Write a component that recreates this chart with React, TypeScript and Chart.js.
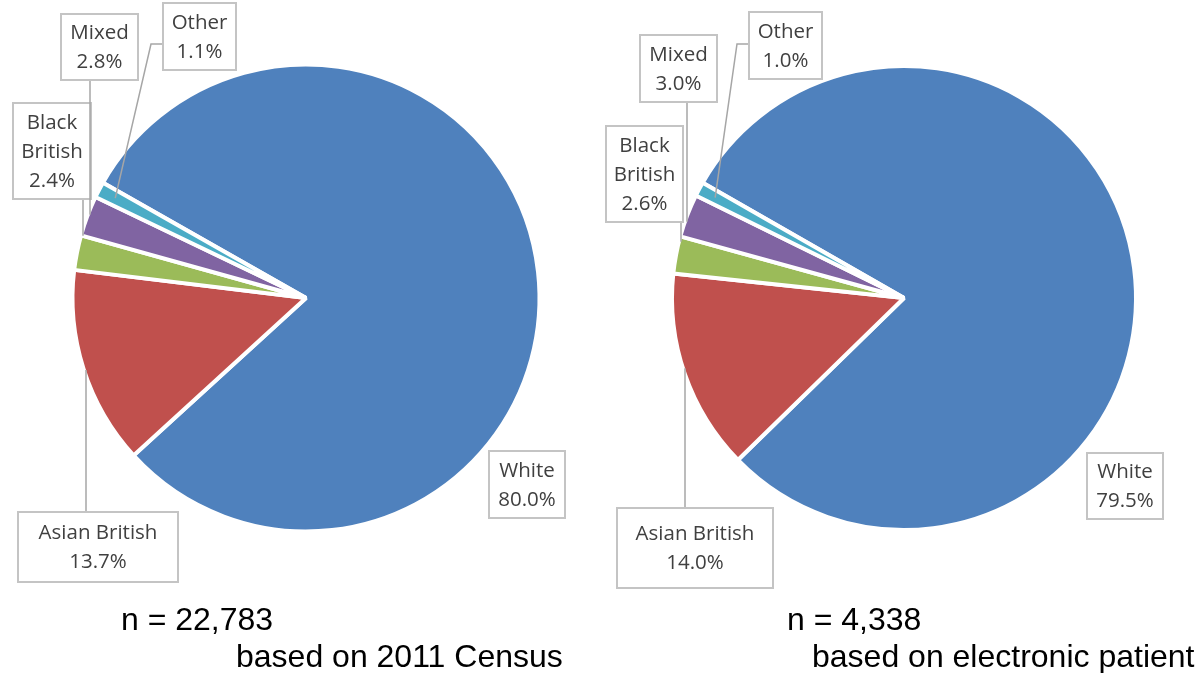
import { useEffect, useRef } from "react";
import { Chart, PieController, ArcElement } from "chart.js";

Chart.register(PieController, ArcElement);

// Ethnic group shares (%), in clockwise slice order
const categories = ["White", "Asian British", "Black British", "Mixed", "Other"];
const censusShares = [80.0, 13.7, 2.4, 2.8, 1.1];
const patientShares = [79.5, 14.0, 2.6, 3.0, 1.0];
const sliceColors = ["#4F81BD", "#C0504D", "#9BBB59", "#8064A2", "#4BACC6"];
const censusCaption = ["n = 22,783", "based on 2011 Census"];
const patientCaption = ["n = 4,338", "based on electronic patient"];

type Leader = "none" | "down" | "up" | "elbow";
type Callout = {
  x: number;
  y: number;
  w: number;
  h: number;
  wrap?: boolean;
  leader: Leader;
  lx?: number;
  ly?: number;
};
type Caption = { x: number; y: number };

const LABEL_FONT = '20.5px "Open Sans", "Noto Sans", sans-serif';
const CAPTION_FONT = '32px "Liberation Sans", Arial, sans-serif';
const LINE_H = 29;
const SLICE_BORDER = 4;

// Callout boxes, indexed like `categories`
const censusCallouts: Callout[] = [
  { x: 489, y: 451, w: 76, h: 67, leader: "none" },
  { x: 18, y: 512, w: 160, h: 70, leader: "up", lx: 86 },
  { x: 13, y: 103, w: 78, h: 96, wrap: true, leader: "down", lx: 83 },
  { x: 61, y: 14, w: 77, h: 66, leader: "down", lx: 90 },
  { x: 163, y: 3, w: 73, h: 67, leader: "elbow", ly: 44 },
];
const patientCallouts: Callout[] = [
  { x: 487, y: 453, w: 76, h: 66, leader: "none" },
  { x: 17, y: 508, w: 156, h: 80, leader: "up", lx: 85 },
  { x: 6, y: 126, w: 77, h: 96, wrap: true, leader: "down", lx: 81 },
  { x: 40, y: 35, w: 77, h: 67, leader: "down", lx: 87 },
  { x: 149, y: 12, w: 73, h: 67, leader: "elbow", ly: 44 },
];
const censusCaptionPos: Caption[] = [
  { x: 121, y: 630 },
  { x: 236, y: 667 },
];
const patientCaptionPos: Caption[] = [
  { x: 187, y: 630 },
  { x: 212, y: 667 },
];

function calloutPlugin(callouts: Callout[], caption: string[], captionPos: Caption[]) {
  return {
    id: "callouts",
    afterDraw(chart: any) {
      const ctx: CanvasRenderingContext2D = chart.ctx;
      const meta = chart.getDatasetMeta(0);
      const values: number[] = chart.data.datasets[0].data;
      ctx.save();
      meta.data.forEach((arc: any, i: number) => {
        const c = callouts[i];
        if (!c) return;
        const p = arc.getProps(["x", "y", "startAngle", "endAngle", "outerRadius"], true);
        const cx = p.x;
        const cy = p.y;
        // visible edge of the coloured fill (the white stroke covers half the border)
        const r = p.outerRadius - SLICE_BORDER / 2;

        // leader line
        ctx.strokeStyle = "#A6A6A6";
        ctx.lineWidth = 1.5;
        ctx.beginPath();
        if (c.leader === "down" || c.leader === "up") {
          const lx = c.lx as number;
          const dy = Math.sqrt(Math.max(r * r - (lx - cx) * (lx - cx), 0));
          if (c.leader === "down") {
            ctx.moveTo(lx, c.y + c.h);
            ctx.lineTo(lx, cy - dy);
          } else {
            ctx.moveTo(lx, c.y);
            ctx.lineTo(lx, cy + dy);
          }
          ctx.stroke();
        } else if (c.leader === "elbow") {
          const mid = (p.startAngle + p.endAngle) / 2;
          const ex = cx + Math.cos(mid) * r * 0.93;
          const ey = cy + Math.sin(mid) * r * 0.93;
          const ly = c.ly as number;
          ctx.moveTo(c.x, ly);
          ctx.lineTo(c.x - 12, ly);
          ctx.lineTo(ex, ey);
          ctx.stroke();
        }

        // box
        ctx.fillStyle = "#FFFFFF";
        ctx.fillRect(c.x, c.y, c.w, c.h);
        ctx.strokeStyle = "#C4C4C4";
        ctx.lineWidth = 2;
        ctx.strokeRect(c.x, c.y, c.w, c.h);

        // text
        const name = categories[i];
        const lines = c.wrap ? name.split(" ") : [name];
        lines.push(values[i].toFixed(1) + "%");
        ctx.font = LABEL_FONT;
        ctx.fillStyle = "#404040";
        ctx.textAlign = "center";
        ctx.textBaseline = "middle";
        const top = c.y + c.h / 2 - ((lines.length - 1) * LINE_H) / 2;
        lines.forEach((t, k) => ctx.fillText(t, c.x + c.w / 2, top + k * LINE_H + 1));
      });

      ctx.font = CAPTION_FONT;
      ctx.fillStyle = "#000000";
      ctx.textAlign = "left";
      ctx.textBaseline = "alphabetic";
      caption.forEach((t, k) => ctx.fillText(t, captionPos[k].x, captionPos[k].y));
      ctx.restore();
    },
  };
}

type PanelProps = {
  values: number[];
  rotation: number;
  padding: { left: number; right: number; top: number; bottom: number };
  callouts: Callout[];
  caption: string[];
  captionPos: Caption[];
  left: number;
  width: number;
};

function PiePanel(props: PanelProps) {
  const ref = useRef<HTMLCanvasElement>(null);
  useEffect(() => {
    const chart = new Chart(ref.current as HTMLCanvasElement, {
      type: "pie",
      data: {
        labels: categories,
        datasets: [
          {
            data: props.values,
            backgroundColor: sliceColors,
            borderColor: "#FFFFFF",
            borderWidth: SLICE_BORDER,
          },
        ],
      },
      options: {
        responsive: false,
        animation: false,
        devicePixelRatio: 1,
        rotation: props.rotation,
        layout: { padding: props.padding },
        events: [],
      },
      plugins: [calloutPlugin(props.callouts, props.caption, props.captionPos)],
    } as any);
    return () => chart.destroy();
  }, []);
  return (
    <canvas
      ref={ref}
      width={props.width}
      height={673}
      style={{ position: "absolute", left: props.left, top: 0, width: props.width, height: 673 }}
    />
  );
}

export default function App() {
  return (
    <div style={{ position: "fixed", left: 0, top: 0, width: 1201, height: 673, background: "#FFFFFF" }}>
      <PiePanel
        values={censusShares}
        rotation={-60.4}
        padding={{ left: 70.5, right: 58.5, top: 62.5, bottom: 139.5 }}
        callouts={censusCallouts}
        caption={censusCaption}
        captionPos={censusCaptionPos}
        left={0}
        width={600}
      />
      <PiePanel
        values={patientShares}
        rotation={-60.2}
        padding={{ left: 70, right: 63, top: 64, bottom: 141 }}
        callouts={patientCallouts}
        caption={patientCaption}
        captionPos={patientCaptionPos}
        left={600}
        width={601}
      />
    </div>
  );
}
